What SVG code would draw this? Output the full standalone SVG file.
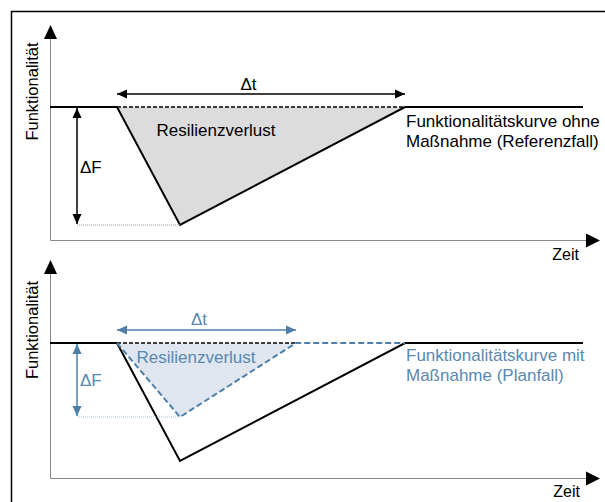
<svg xmlns="http://www.w3.org/2000/svg" width="605" height="502" viewBox="0 0 605 502">
<style>
.t{font-family:"Liberation Sans",Arial,sans-serif;font-size:17px;fill:#000}
.s{font-size:16.5px}
.z{font-size:16px}
.b{fill:#5a88b0}
.axis{stroke:#8a8a8a;stroke-width:1;fill:none}
.curve{stroke:#000;stroke-width:2;fill:none;stroke-linejoin:miter}
.blk{stroke:#000;stroke-width:1.5;fill:none}
.blu{stroke:#4f7fa8;stroke-width:1.5;fill:none}
</style>
<defs>
<marker id="ak" viewBox="0 0 10 10" refX="10" refY="5" markerWidth="10" markerHeight="10" markerUnits="userSpaceOnUse" orient="auto-start-reverse"><path d="M0,0.5 L10,5 L0,9.5 Z" fill="#000"/></marker>
<marker id="ab" viewBox="0 0 10 10" refX="10" refY="5" markerWidth="10" markerHeight="10" markerUnits="userSpaceOnUse" orient="auto-start-reverse"><path d="M0,0.5 L10,5 L0,9.5 Z" fill="#4f7fa8"/></marker>
</defs>
<rect width="605" height="502" fill="#fff"/>
<rect x="11.5" y="11.5" width="700" height="600" fill="none" stroke="#000" stroke-width="1.5"/>

<g id="panel-top">
  <g id="axes-top">
    <line class="axis" x1="50.5" y1="38" x2="50.5" y2="240.5"/>
    <polygon points="50.5,25 44,39 57,39" fill="#000"/>
    <line class="axis" x1="50.5" y1="240.5" x2="587" y2="240.5"/>
    <polygon points="600,240.5 586,233.5 586,247.5" fill="#000"/>
    <text class="t s" transform="translate(38,91.5) rotate(-90)" text-anchor="middle">Funktionalität</text>
    <text class="t z" x="579" y="260" text-anchor="end">Zeit</text>
  </g>
  <g id="loss-top">
    <polygon points="117,107 180,225 405,107" fill="#dcdcdc"/>
    <text class="t" x="216" y="136" text-anchor="middle">Resilienzverlust</text>
  </g>
  <g id="curve-top">
    <polyline class="curve" points="50,107 117,107 180,225 405,107 583,107"/>
    <line x1="117" y1="107" x2="405" y2="107" stroke="#000" stroke-width="1.3" stroke-dasharray="4,2"/>
    <text class="t" x="406" y="127">Funktionalitätskurve ohne</text>
    <text class="t" x="406" y="147">Maßnahme (Referenzfall)</text>
  </g>
  <g id="dt-top">
    <line class="blk" x1="117" y1="94" x2="405" y2="94" marker-start="url(#ak)" marker-end="url(#ak)"/>
    <text class="t" x="248.5" y="90" text-anchor="middle">Δt</text>
  </g>
  <g id="dF-top">
    <line class="blk" x1="77" y1="108" x2="77" y2="224" marker-start="url(#ak)" marker-end="url(#ak)"/>
    <line x1="77" y1="225" x2="180" y2="225" stroke="#999" stroke-width="1" stroke-dasharray="1,1"/>
    <text class="t" x="80" y="173">ΔF</text>
  </g>
</g>

<g id="panel-bottom">
  <g id="axes-bottom">
    <line class="axis" x1="50.5" y1="273" x2="50.5" y2="478.5"/>
    <polygon points="50.5,260 44,274 57,274" fill="#000"/>
    <line class="axis" x1="50.5" y1="478.5" x2="587" y2="478.5"/>
    <polygon points="600,478.5 586,471.5 586,485.5" fill="#000"/>
    <text class="t s" transform="translate(38,330) rotate(-90)" text-anchor="middle">Funktionalität</text>
    <text class="t z" x="580" y="497" text-anchor="end">Zeit</text>
  </g>
  <g id="loss-bottom">
    <polygon points="117,343 180,417 296,343" fill="#dfe6f0"/>
    <text class="t b" x="196" y="363" text-anchor="middle">Resilienzverlust</text>
  </g>
  <g id="curve-bottom">
    <polyline class="curve" points="50,343 117,343 180,461 405,343 583,343"/>
    <line x1="117" y1="343" x2="297" y2="343" stroke="#000" stroke-width="1.3" stroke-dasharray="4,2"/>
    <polyline points="117,343 180,417 296,343 405,343" fill="none" stroke="#4f7fa8" stroke-width="2" stroke-dasharray="6,3"/>
    <text class="t b" x="406" y="361">Funktionalitätskurve mit</text>
    <text class="t b" x="406" y="381">Maßnahme (Planfall)</text>
  </g>
  <g id="dt-bottom">
    <line class="blu" x1="117" y1="330" x2="296" y2="330" marker-start="url(#ab)" marker-end="url(#ab)"/>
    <text class="t b" x="199" y="325" text-anchor="middle">Δt</text>
  </g>
  <g id="dF-bottom">
    <line class="blu" x1="77" y1="344" x2="77" y2="416" marker-start="url(#ab)" marker-end="url(#ab)"/>
    <line x1="77" y1="417" x2="180" y2="417" stroke="#aac4dc" stroke-width="1" stroke-dasharray="1,1"/>
    <text class="t b" x="80" y="386">ΔF</text>
  </g>
</g>
</svg>
